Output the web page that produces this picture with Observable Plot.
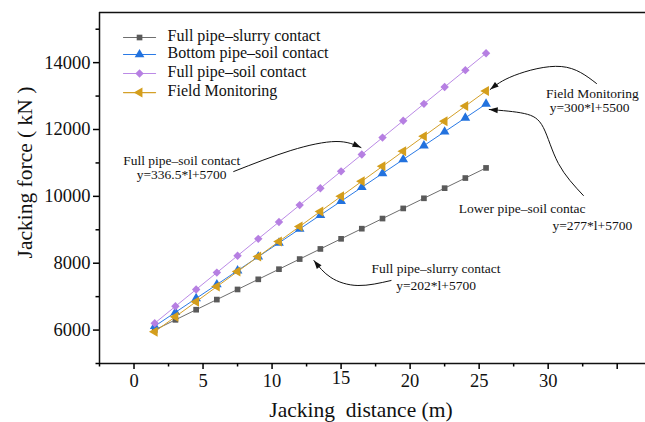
<!DOCTYPE html>
<html><head><meta charset="utf-8">
<script src="https://cdn.jsdelivr.net/npm/d3@7"></script>
<script src="https://cdn.jsdelivr.net/npm/@observablehq/plot@0.6"></script>
<style>body{margin:0;background:#fff} svg text{font-family:"Liberation Serif",serif}</style>
</head><body><div id="chart"></div>
<script>
// ---- data ----
const distance = [1.5,3,4.5,6,7.5,9,10.5,12,13.5,15,16.5,18,19.5,21,22.5,24,25.5];
const slurryContact = [6003,6306,6609,6912,7215,7518,7821,8124,8427,8730,9033,9336,9639,9942,10245,10548,10851];
const bottomSoilContact = [6116,6531,6947,7362,7778,8193,8609,9024,9440,9855,10271,10686,11102,11517,11933,12348,12764];
const fullSoilContact = [6205,6710,7214,7719,8224,8729,9233,9738,10243,10748,11252,11757,12262,12767,13271,13776,14281];
const fieldMonitoring = [5950,6400,6850,7300,7750,8200,8650,9100,9550,10000,10450,10900,11350,11800,12250,12700,13150];

const seriesNames = ["Full pipe–slurry contact","Bottom pipe–soil contact","Full pipe–soil contact","Field Monitoring"];
const seriesValues = [slurryContact, bottomSoilContact, fullSoilContact, fieldMonitoring];
const seriesColors = ["#5a5a5a","#2272de","#b67fe2","#d49e1c"];
const lineColors = ["#6e6e6e","#2a7ae6","#bb8ae6","#d4a028"];
const seriesSymbols = ["square","triangle","diamond2","triangle"];
const seriesRotate = [0,0,0,-90];
const seriesR = [3.2,3.6,3.8,3.7];

const xTicks = [0,5,10,15,20,25,30,35];
const xTickLabels = ["0","5","10","15","20","25","30",""];
const xRaisedLabel = 15; // this label sits slightly higher in the picture
const xMinorTicks = [-2.5,2.5,7.5,12.5,17.5,22.5,27.5,32.5];
const yTicks = [6000,8000,10000,12000,14000];
const yMinorTicks = [5000,7000,9000,11000,13000,15000];

const FONT = "Liberation Serif";

// legend rows (data coords)
const legendY = [14752,14243,13675,13106];
const legendLineX = [-0.76,1.56];
const legendDotX = 0.4;
const legendTextX = 2.43;

// axis titles (data coords)
const xTitle = {x: 16.44, y: 3594, text: "Jacking  distance (m)"};
const yTitle = {x: -7.87, y: 10713, text: "Jacking force ( kN )"};

// annotations
const annotationTexts = [
  {x:3.45, y:11072, text:"Full pipe–soil contact", anchor:"middle"},
  {x:3.45, y:10654, text:"y=336.5*l+5700", anchor:"middle"},
  {x:33.2, y:13077, text:"Field Monitoring", anchor:"middle"},
  {x:33.0, y:12658, text:"y=300*l+5500", anchor:"middle"},
  {x:28.12, y:9637, text:"Lower pipe–soil contac", anchor:"start"},
  {x:33.2, y:9128, text:"y=277*l+5700", anchor:"middle"},
  {x:21.88, y:7842, text:"Full pipe–slurry contact", anchor:"middle"},
  {x:21.88, y:7333, text:"y=202*l+5700", anchor:"middle"}
];
const arrowPaths = [
  [[7.22,10743],[11.36,11372],[14.63,11641],[16.44,11461]],
  [[33.5,13376],[30.95,13884],[27.54,13615],[25.80,13196]],
  [[32.55,10025],[30.74,10983],[29.65,12060],[28.27,12478],[25.73,12598]],
  [[18.62,7483],[16.22,7333],[14.26,7573],[13.03,8081]]
];

const rows = [];
seriesValues.forEach((vals, s) => vals.forEach((v, i) => rows.push({series: s, x: distance[i], y: v})));

const marks = [];
// frame lines
marks.push(Plot.ruleY([15500], {stroke: "#111", strokeWidth: 1.5}));
marks.push(Plot.ruleY([5000], {stroke: "#111", strokeWidth: 1.5}));
marks.push(Plot.ruleX([-2.5], {stroke: "#111", strokeWidth: 1.5}));
// axes
const lbl = d => xTickLabels[xTicks.indexOf(d)];
marks.push(Plot.axisX(xTicks.filter(d => d !== xRaisedLabel), {tickSize: 6, tickPadding: 4, strokeWidth: 1.5, fontSize: 18.5, fontFamily: FONT, fill: "#111",
  tickFormat: lbl, label: null}));
marks.push(Plot.axisX([xRaisedLabel], {tickSize: 6, tickPadding: 1, strokeWidth: 1.5, fontSize: 18.5, fontFamily: FONT, fill: "#111",
  tickFormat: lbl, label: null}));
marks.push(Plot.axisX(xMinorTicks, {tickSize: 3.5, strokeWidth: 1.5, tickFormat: () => "", label: null}));
marks.push(Plot.axisY(yTicks, {tickSize: 6, tickPadding: 3, strokeWidth: 1.5, fontSize: 18.5, fontFamily: FONT, fill: "#111",
  tickFormat: d => String(d), label: null}));
marks.push(Plot.axisY(yMinorTicks, {tickSize: 3.5, strokeWidth: 1.5, tickFormat: () => "", label: null}));
// axis titles
marks.push(Plot.text([xTitle], {x: "x", y: "y", text: "text", fontSize: 21.5, fontFamily: FONT, fill: "#111"}));
marks.push(Plot.text([yTitle], {x: "x", y: "y", text: "text", rotate: -90, fontSize: 21.5, fontFamily: FONT, fill: "#111"}));

// series
seriesNames.forEach((name, s) => {
  const d = rows.filter(r => r.series === s);
  marks.push(Plot.line(d, {x: "x", y: "y", stroke: lineColors[s], strokeWidth: 1}));
  marks.push(Plot.dot(d, {x: "x", y: "y", fill: seriesColors[s], symbol: seriesSymbols[s], r: seriesR[s], rotate: seriesRotate[s]}));
  // legend
  marks.push(Plot.line(legendLineX.map(x => ({x, y: legendY[s]})), {x: "x", y: "y", stroke: lineColors[s], strokeWidth: 1.2}));
  marks.push(Plot.dot([{x: legendDotX, y: legendY[s]}], {x: "x", y: "y", fill: seriesColors[s], symbol: seriesSymbols[s], r: seriesR[s], rotate: seriesRotate[s]}));
  marks.push(Plot.text([{x: legendTextX, y: legendY[s], t: name}], {x: "x", y: "y", text: "t", textAnchor: "start", dy: -2, fontSize: 16, fontFamily: FONT, fill: "#111"}));
});

// annotations
marks.push(Plot.text(annotationTexts, {x: "x", y: "y", text: "text", textAnchor: d => d.anchor, fontSize: 13.5, fontFamily: FONT, fill: "#111"}));
arrowPaths.forEach(p => {
  marks.push(Plot.line(p, {x: d => d[0], y: d => d[1], curve: "natural", stroke: "#111", strokeWidth: 1, markerEnd: "arrow"}));
});

const chart = Plot.plot({
  width: 645, height: 422,
  marginLeft: 99, marginRight: 0, marginTop: 12, marginBottom: 59,
  x: {domain: [-2.5, 37.05]},
  y: {domain: [5000, 15500]},
  style: {fontFamily: FONT, background: "white", overflow: "hidden"},
  marks
});
chart.querySelectorAll("marker").forEach(m => {
  m.setAttribute("viewBox", "-9 -5 10 10");
  m.setAttribute("markerWidth", 10);
  m.setAttribute("markerHeight", 10);
  m.setAttribute("fill", "#111");
  m.setAttribute("stroke", "none");
  const p = m.querySelector("path");
  if (p) p.setAttribute("d", "M-8.5,-3L0,0L-8.5,3Z");
});
document.getElementById("chart").appendChild(chart);
</script>
</body></html>
